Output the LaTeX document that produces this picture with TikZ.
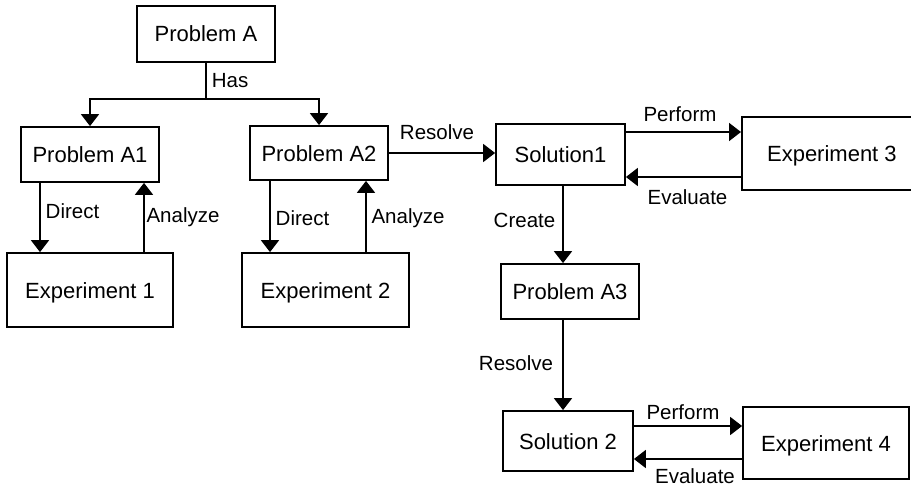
\documentclass[tikz,border=0pt]{standalone}
\usepackage{fontspec}
\setmainfont{Liberation Sans}
\usetikzlibrary{arrows.meta,calc}

\begin{document}
\begin{tikzpicture}[
  x=1pt, y=1pt,
  line width=1.8pt,
  box/.style={draw, rectangle, inner sep=0pt, font=\fontsize{22}{26}\selectfont,
              text height=16pt, text depth=0pt},
  lbl/.style={anchor=base, inner sep=0pt, font=\fontsize{20.5}{24}\selectfont},
  link/.style={-{Triangle[length=12pt,width=18pt]}},
]
% canvas
\clip (0,0) rectangle (911,-487);
\fill[white] (0,0) rectangle (911,-487);

% boxes
\node[box, minimum width=138pt, minimum height=56pt] (pa)  at (206,-34)    {Problem A};
\node[box, minimum width=138pt, minimum height=55pt] (pa1) at (90,-154.5)  {Problem A1};
\node[box, minimum width=138pt, minimum height=54pt] (pa2) at (319,-153)   {Problem A2};
\node[box, minimum width=166pt, minimum height=74pt] (e1)  at (90,-290)    {Experiment 1};
\node[box, minimum width=167pt, minimum height=74pt] (e2)  at (325.5,-290) {Experiment 2};
\node[box, minimum width=129pt, minimum height=61pt] (s1)  at (560.5,-154.5) {Solution1};
\node[box, minimum width=180pt, minimum height=73pt, anchor=west] (e3) at (741,-153.5) {Experiment 3\hspace{14pt}};
\node[box, minimum width=138pt, minimum height=55pt] (pa3) at (570,-291.5) {Problem A3};
\node[box, minimum width=130pt, minimum height=60pt] (s2)  at (568,-441)   {Solution 2};
\node[box, minimum width=166pt, minimum height=72pt] (e4)  at (826,-443)   {Experiment 4};

% Problem A splits into its two sub-problems
\draw (pa.south) -- ++(0,-36) coordinate (hub);
\draw[link] (hub) -| (pa1.north);
\draw[link] (hub) -| (pa2.north);
\node[lbl, anchor=base west] (lhas) at (211,-88) {Has};

% Problem A1 <-> Experiment 1
\draw[link] ([xshift=-50pt]pa1.south) -- ([xshift=-50pt]pa1.south |- e1.north);
\draw[link] ([xshift=54pt]e1.north) -- ([xshift=54pt]e1.north |- pa1.south);
\node[lbl] (ld1) at (72.5,-218) {Direct};
\node[lbl] (la1) at (183,-222) {Analyze};

% Problem A2 <-> Experiment 2
\draw[link] ([xshift=-49pt]pa2.south) -- ([xshift=-49pt]pa2.south |- e2.north);
\draw[link] ([xshift=40.5pt]e2.north) -- ([xshift=40.5pt]e2.north |- pa2.south);
\node[lbl] (ld2) at (302.5,-225) {Direct};
\node[lbl] (la2) at (408,-223) {Analyze};

% Problem A2 -> Solution1
\draw[link] (pa2.east) -- (pa2.east -| s1.west);
\node[lbl] (lr1) at (437,-139.5) {Resolve};

% Solution1 <-> Experiment 3
\draw[link] ([yshift=22.5pt]s1.east) -- ([yshift=22.5pt]s1.east -| e3.west);
\draw[link] ([yshift=-22.5pt]s1.east -| e3.west) -- ([yshift=-22.5pt]s1.east);
\node[lbl] (lp1) at (680,-121.5) {Perform};
\node[lbl] (le1) at (687.5,-204) {Evaluate};

% Solution1 -> Problem A3 -> Solution 2
\draw[link] ([xshift=2.5pt]s1.south) -- ([xshift=2.5pt]s1.south |- pa3.north);
\node[lbl] (lc) at (524.5,-227) {Create};
\draw[link] ([xshift=-7pt]pa3.south) -- ([xshift=-7pt]pa3.south |- s2.north);
\node[lbl] (lr2) at (516,-370) {Resolve};

% Solution 2 <-> Experiment 4
\draw[link] ([yshift=15pt]s2.east) -- ([yshift=15pt]s2.east -| e4.west);
\draw[link] ([yshift=-18pt]s2.east -| e4.west) -- ([yshift=-18pt]s2.east);
\node[lbl] (lp2) at (683,-419) {Perform};
\node[lbl] (le2) at (695,-483) {Evaluate};
\end{tikzpicture}
\end{document}
